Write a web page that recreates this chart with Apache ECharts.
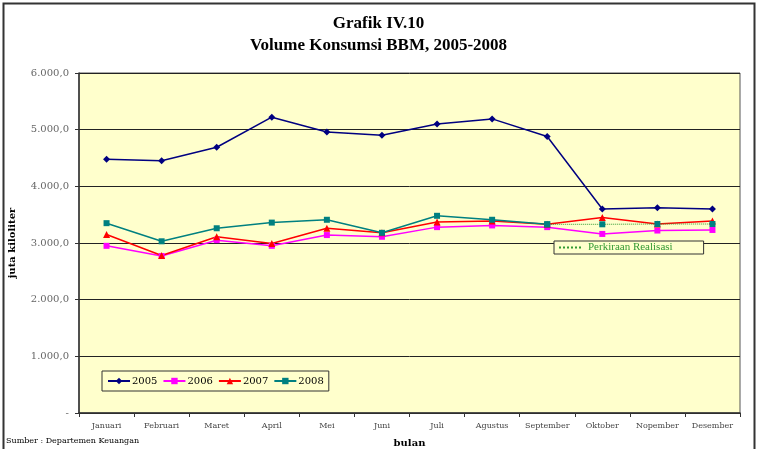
<!DOCTYPE html>
<html>
<head>
<meta charset="utf-8">
<script src="https://cdn.jsdelivr.net/npm/echarts@6/dist/echarts.min.js"></script>
<style>
  html, body { margin: 0; padding: 0; background: #fff; }
  #chart { width: 757px; height: 449px; }
</style>
</head>
<body>
<div id="chart"></div>
<script>
var bulan = ['Januari', 'Februari', 'Maret', 'April', 'Mei', 'Juni', 'Juli', 'Agustus', 'September', 'Oktober', 'Nopember', 'Desember'];
var data2005 = [4480, 4450, 4690, 5220, 4960, 4900, 5100, 5190, 4880, 3600, 3620, 3600];
var data2006 = [2950, 2770, 3050, 2950, 3140, 3110, 3280, 3310, 3280, 3160, 3220, 3230];
var data2007 = [3150, 2780, 3110, 2990, 3260, 3180, 3370, 3390, 3330, 3450, 3335, 3390];
var data2008 = [3350, 3030, 3260, 3360, 3410, 3180, 3480, 3410, 3330, '-', '-', '-'];
var perkiraan2008 = ['-', '-', '-', '-', '-', '-', '-', '-', 3330, 3330, 3335, 3335];
var yTicks = [0, 1000, 2000, 3000, 4000, 5000, 6000];

(function () {
    var dom = document.getElementById('chart');
    var myChart = echarts.init(dom);
    var serif = '"Liberation Serif", "DejaVu Serif", serif';
    var wide = '"DejaVu Serif", serif';
    var colors = ['#000080', '#ff00ff', '#ff0000', '#008080', '#339933'];

    function fmt(v) {
        if (v === 0) return '-';
        var s = Math.round(v).toString().replace(/\B(?=(\d{3})+(?!\d))/g, '.');
        return s + ',0';
    }

    var option = {
        animation: false,
        title: {
            text: 'Grafik IV.10\nVolume Konsumsi BBM, 2005-2008',
            left: 'center',
            top: 8,
            textStyle: {
                fontFamily: serif,
                fontWeight: 'bold',
                fontSize: 17,
                lineHeight: 22,
                color: '#000'
            }
        },
        legend: [{
            data: ['2005', '2006', '2007', '2008'],
            left: 102,
            top: 371,
            itemGap: 5,
            itemWidth: 22,
            itemHeight: 8,
            padding: [5, 5, 5, 5],
            borderColor: '#333',
            borderWidth: 1,
            textStyle: { fontFamily: wide, fontSize: 10, color: '#000', padding: [0, 0, 0, -3] }
        }, {
            data: ['Perkiraan Realisasi'],
            left: 554,
            top: 241,
            itemWidth: 24,
            itemHeight: 6,
            padding: [1, 31, 1, 4],
            borderColor: '#333',
            borderWidth: 1,
            backgroundColor: '#ffffcc',
            itemStyle: { opacity: 0 },
            textStyle: { fontFamily: serif, fontSize: 11, color: '#339933' }
        }],
        grid: {
            left: 79,
            right: 17,
            top: 73,
            bottom: 36,
            outerBoundsMode: 'none',
            show: true,
            backgroundColor: '#ffffcc',
            borderColor: '#555',
            borderWidth: 1
        },
        xAxis: {
            type: 'category',
            data: bulan,
            boundaryGap: true,
            name: 'bulan',
            nameLocation: 'middle',
            nameGap: 25,
            nameTextStyle: { fontFamily: wide, fontWeight: 'bold', fontSize: 10, color: '#000' },
            axisLine: { lineStyle: { color: '#333', width: 1.5 } },
            axisTick: { show: true, length: 4, lineStyle: { color: '#333' } },
            axisLabel: { fontFamily: wide, fontSize: 8, color: '#444', margin: 9, interval: 0 }
        },
        yAxis: {
            type: 'value',
            min: yTicks[0],
            max: yTicks[yTicks.length - 1],
            interval: 1000,
            name: 'juta kiloliter',
            nameLocation: 'middle',
            nameGap: 62,
            nameTextStyle: { fontFamily: wide, fontWeight: 'bold', fontSize: 10, color: '#000' },
            axisLine: { show: true, lineStyle: { color: '#333', width: 1.5 } },
            axisTick: { show: true, length: 4, lineStyle: { color: '#333' } },
            axisLabel: {
                fontFamily: wide, fontSize: 10, color: '#666', margin: 10,
                formatter: fmt
            },
            splitLine: { show: true, lineStyle: { color: '#222', width: 1 } }
        },
        series: [{
            name: '2005',
            type: 'line',
            data: data2005,
            symbol: 'diamond',
            symbolSize: 7,
            color: colors[0],
            lineStyle: { width: 1.5 }
        }, {
            name: '2006',
            type: 'line',
            data: data2006,
            symbol: 'rect',
            symbolSize: 6,
            color: colors[1],
            lineStyle: { width: 1.5 }
        }, {
            name: '2007',
            type: 'line',
            data: data2007,
            symbol: 'triangle',
            symbolSize: 7,
            color: colors[2],
            lineStyle: { width: 1.5 }
        }, {
            name: 'Perkiraan Realisasi',
            type: 'line',
            data: perkiraan2008,
            symbol: 'rect',
            symbolSize: 6,
            color: colors[4],
            itemStyle: { color: colors[3] },
            lineStyle: { width: 1, type: 'dotted', color: colors[4] }
        }, {
            name: '2008',
            type: 'line',
            data: data2008,
            symbol: 'rect',
            symbolSize: 6,
            color: colors[3],
            lineStyle: { width: 1.5 }
        }],
        graphic: [{
            type: 'rect',
            left: 1,
            top: 1,
            shape: { width: 751, height: 452 },
            style: { fill: 'none', stroke: '#333', lineWidth: 2 },
            silent: true
        }, {
            type: 'text',
            left: 6,
            top: 437,
            style: { text: 'Sumber : Departemen Keuangan', font: '8px ' + wide, fill: '#000' }
        }]
    };
    myChart.setOption(option, true);
})();
</script>
</body>
</html>
